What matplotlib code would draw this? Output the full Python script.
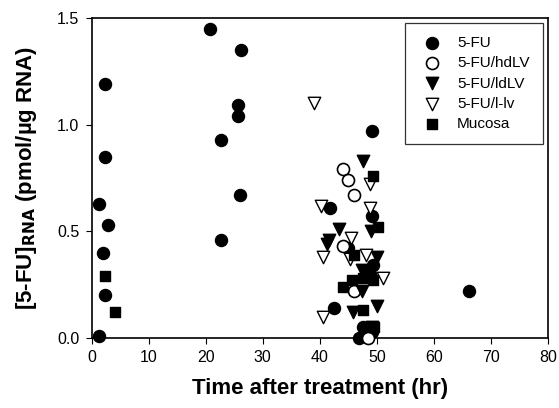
import matplotlib
matplotlib.use("Agg")
import matplotlib.pyplot as plt

plt.rcParams["font.family"] = ["Liberation Sans", "DejaVu Sans"]

# 5-FU alone
fu_x = [1.3, 2.3, 2.3, 2.9, 1.9, 2.3, 1.3, 20.7, 26.2, 25.6, 25.6, 22.7, 26.1, 22.7,
        49.2, 66.1, 41.8, 49.2, 45.0, 49.4, 42.5, 47.6, 46.9, 49.1, 48.8]
fu_y = [0.63, 1.19, 0.85, 0.53, 0.40, 0.20, 0.01, 1.45, 1.35, 1.09, 1.04, 0.93, 0.67, 0.46,
        0.97, 0.22, 0.61, 0.57, 0.42, 0.34, 0.14, 0.05, 0.0, 0.03, 0.30]

# 5-FU/hdLV
hd_x = [44.0, 45.0, 46.0, 44.0, 46.0, 48.5]
hd_y = [0.79, 0.74, 0.67, 0.43, 0.22, 0.0]

# 5-FU/ldLV
ld_x = [47.5, 49.0, 43.3, 41.7, 41.2, 50.1, 47.4, 47.4, 50.0, 45.9, 49.1, 48.5]
ld_y = [0.83, 0.50, 0.51, 0.46, 0.44, 0.38, 0.32, 0.22, 0.15, 0.12, 0.05, 0.30]

# 5-FU/l-lv
ll_x = [39.0, 48.9, 40.2, 48.9, 45.4, 40.6, 45.3, 48.1, 51.1, 40.6]
ll_y = [1.10, 0.72, 0.62, 0.61, 0.47, 0.38, 0.37, 0.39, 0.28, 0.10]

# Mucosa
mu_x = [2.4, 4.1, 49.3, 50.2, 46.0, 47.6, 49.4, 44.0, 45.6, 47.5, 49.5]
mu_y = [0.29, 0.12, 0.76, 0.52, 0.39, 0.28, 0.27, 0.24, 0.27, 0.13, 0.05]

fig = plt.figure(figsize=(5.59, 4.08), dpi=100)
ax = fig.add_axes([0.164, 0.1716, 0.816, 0.7844])

ax.scatter(fu_x, fu_y, s=75, marker="o", color="black", label="5-FU", zorder=3,
           clip_on=False)
ax.scatter(hd_x, hd_y, s=75, marker="o", facecolor="white", edgecolor="black",
           linewidths=1.2, label="5-FU/hdLV", zorder=3, clip_on=False)
ax.scatter(ld_x, ld_y, s=80, marker="v", color="black", label="5-FU/ldLV", zorder=3,
           clip_on=False)
ax.scatter(ll_x, ll_y, s=80, marker="v", facecolor="white", edgecolor="black",
           linewidths=1.0, label="5-FU/l-lv", zorder=3, clip_on=False)
ax.scatter(mu_x, mu_y, s=60, marker="s", color="black", label="Mucosa", zorder=3,
           clip_on=False)

ax.set_xlim(0, 80)
ax.set_ylim(0, 1.5)
ax.set_xticks(range(0, 81, 10))
ax.set_yticks([0.0, 0.5, 1.0, 1.5])
ax.set_yticklabels(["0.0", "0.5", "1.0", "1.5"])
ax.tick_params(direction="out", length=4, labelsize=11.5, pad=5, top=False, right=False)
for sp in ax.spines.values():
    sp.set_linewidth(1.2)

ax.set_xlabel("Time after treatment (hr)", fontsize=16, fontweight="bold", labelpad=9)
ax.set_ylabel("[5-FU]$_{\\mathbf{RNA}}$ (pmol/\u00b5g RNA)", fontsize=16,
              fontweight="bold", labelpad=13)

leg = ax.legend(loc="upper right", fontsize=11, frameon=True, fancybox=False,
                edgecolor="black", borderpad=0.9, labelspacing=0.4,
                handletextpad=0.76, borderaxespad=0.3, markerscale=1.0,
                handlelength=1.74)
leg.get_frame().set_linewidth(0.9)

fig.savefig("out.png", dpi=100)
